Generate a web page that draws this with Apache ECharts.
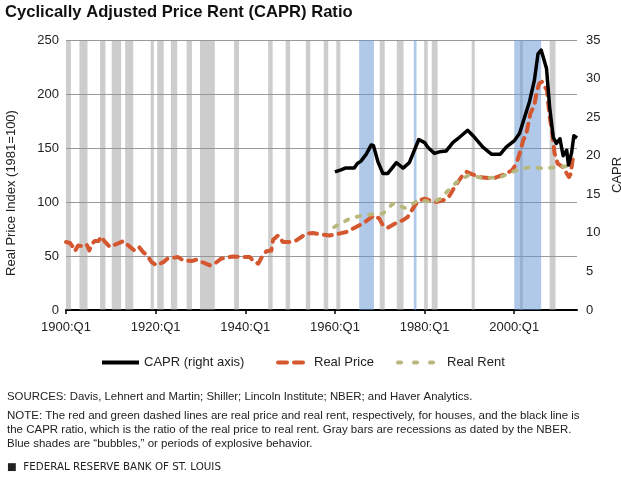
<!DOCTYPE html>
<html>
<head>
<meta charset="utf-8">
<script src="https://cdn.jsdelivr.net/npm/echarts@6/dist/echarts.min.js"></script>
<style>
html,body{margin:0;padding:0;background:#fff;}
#c{width:621px;height:483px;}
</style>
</head>
<body>
<div id="c"></div>
<script>
// ---- Data (x = year as decimal, quarterly dates) ----
const xTickYears = [1900, 1920, 1940, 1960, 1980, 2000];

const realPrice = [
  [1900.0,63],[1900.9,62],[1901.6,58],[1902.0,54.5],[1902.7,59.8],[1903.8,59],[1904.6,60.8],
  [1905.2,55.2],[1905.7,60.8],[1906.4,63.8],[1907.2,63.8],[1907.9,68],[1908.5,64],[1909.8,58.3],
  [1911.1,60.8],[1912.8,63.8],[1913.9,59.8],[1915.2,55.2],[1916.3,58.3],[1917.2,53.6],[1918.1,50.6],
  [1919.1,44.3],[1920.2,41.3],[1921.7,44.3],[1922.6,47.5],[1925.0,49],[1926.1,46],[1928.0,45.3],
  [1929.1,46.6],[1931.2,42.9],[1932.1,41.3],[1933.2,43],[1934.6,47.5],[1937.3,49.6],[1939.5,49],
  [1941.0,49],[1941.8,45.3],[1942.9,42.9],[1943.6,48.4],[1944.7,54.5],[1945.8,55],[1946.2,65],
  [1947.3,69],[1948.4,63],[1950.0,63],[1951.4,64.5],[1953.6,70.7],[1955.1,71.3],[1957.3,69.7],
  [1958.8,69],[1961.0,70.7],[1962.5,72.2],[1964.7,76.8],[1966.2,80],[1967.7,84.6],[1968.8,87.7],
  [1969.9,84.6],[1970.7,78.4],[1971.8,76.2],[1973.6,80.5],[1975.1,83],[1976.2,86],[1977.7,96],
  [1978.8,101.6],[1980.0,103],[1981.1,101.6],[1982.6,100],[1984.4,102],[1985.6,106],[1986.7,114],
  [1988.2,123],[1989.3,128],[1990.4,126],[1992.3,123],[1995.3,121.7],[1998.2,126.3],[1999.5,129.4],
  [2000.5,135.6],[2001.2,145],[2002.0,157],[2002.7,163.5],[2003.6,182],[2004.5,190],[2005.1,203.6],
  [2005.6,209.8],[2006.2,211.3],[2006.8,206.7],[2007.3,203.6],[2007.9,178.8],[2008.4,166.5],
  [2009.0,145],[2009.7,135.6],[2010.8,132.5],[2012.2,123.2],[2012.6,126],[2013.0,138.7],[2013.3,141.7]
];

const realRent = [
  [1959.8,76.8],[1963.3,84.6],[1966.5,88],[1969.9,89.2],[1970.7,89.2],[1972.9,98.5],[1975.6,94.5],
  [1978.7,101.6],[1982.0,100],[1983.5,103],[1985.3,110.9],[1987.2,118.6],[1989.8,124.8],[1993.2,122],
  [1996.9,123],[1999.9,128.5],[2003.6,132.5],[2006.6,131],[2009.6,132.5],[2011.5,133],[2013.3,133]
];

const capr = [
  [1960.0,17.9],[1961.5,18.2],[1962.3,18.4],[1964.3,18.4],[1965.0,19.0],[1965.8,19.3],[1967.0,20.2],
  [1968.1,21.4],[1968.6,21.3],[1969.6,19.2],[1970.7,17.7],[1971.8,17.7],[1973.7,19.1],[1975.2,18.4],
  [1976.6,19.1],[1978.7,22.1],[1980.0,21.7],[1980.7,21.1],[1982.2,20.3],[1983.3,20.5],[1984.8,20.6],
  [1986.3,21.7],[1987.4,22.2],[1989.6,23.3],[1990.8,22.6],[1993.0,21.1],[1994.9,20.2],[1996.9,20.2],
  [1998.2,21.1],[2000.1,22.0],[2001.2,22.9],[2002.3,25.0],[2003.4,27.0],[2004.5,29.8],[2005.3,33.2],
  [2006.0,33.7],[2007.2,31.3],[2007.9,26.3],[2008.7,22.4],[2009.4,21.6],[2010.2,22.2],[2010.9,20.0],
  [2011.7,20.7],[2012.1,18.8],[2012.8,20.4],[2013.3,22.6],[2014.0,22.3]
];

// NBER recessions (gray) and bubble periods (blue), as [start, end] years
const recessions = [
  [1900.0,1901.1],[1903.0,1904.8],[1907.6,1908.8],[1910.2,1912.3],[1913.2,1915.0],[1918.9,1919.6],
  [1920.35,1921.8],[1923.4,1924.8],[1926.9,1928.1],[1929.9,1933.2],[1937.5,1938.6],[1945.1,1946.1],
  [1949.0,1950.0],[1953.5,1954.5],[1957.5,1958.5],[1960.3,1961.2],[1970.0,1971.1],[1973.8,1975.3],
  [1979.9,1980.7],[1981.6,1982.9],[1990.5,1991.2],[2001.3,2001.9],[2007.9,2009.2]
];
const bubbles = [[1965.4,1968.7],[1977.6,1978.2],[2000.0,2006.0]];

const footSources = 'SOURCES: Davis, Lehnert and Martin; Shiller; Lincoln Institute; NBER; and Haver Analytics.';
const footNote = [
  'NOTE: The red and green dashed lines are real price and real rent, respectively, for houses, and the black line is',
  'the CAPR ratio, which is the ratio of the real price to real rent. Gray bars are recessions as dated by the NBER.',
  'Blue shades are \u201Cbubbles,\u201D or periods of explosive behavior.'
];
const footBrand = '\u25A0  FEDERAL RESERVE BANK OF ST. LOUIS';

// ---- Chart ----
const FONT = '"Liberation Sans", Arial, sans-serif';
const chart = echarts.init(document.getElementById('c'), null, {renderer: 'canvas'});

const toAreas = arr => arr.map(r => [{xAxis: r[0]}, {xAxis: r[1]}]);

const priceColor = '#d5572f';
const rentColor = '#b9b87c';
const legendText = {fontFamily: FONT, fontSize: 13, color: '#222'};

const option = {
  animation: false,
  backgroundColor: '#fff',
  textStyle: {fontFamily: FONT},
  title: {
    text: 'Cyclically Adjusted Price Rent (CAPR) Ratio',
    left: 5, top: 4, padding: 0,
    textStyle: {fontFamily: FONT, fontSize: 16.6, fontWeight: 'bold', color: '#111'}
  },
  grid: {left: 66, right: 44, top: 40, bottom: 173, containLabel: false, outerBoundsMode: 'none'},
  legend: [
    {
      left: 95, top: 351, itemWidth: 37, itemHeight: 14,
      data: [{name: 'CAPR (right axis)', itemStyle: {opacity: 0},
              lineStyle: {width: 4, color: '#000', type: 'solid'}}],
      textStyle: legendText
    },
    {
      left: 271, top: 351, itemWidth: 31, itemHeight: 14,
      data: [{name: 'Real Price', itemStyle: {opacity: 0},
              lineStyle: {width: 4, color: priceColor, type: [9, 7], cap: 'round'}}],
      textStyle: legendText
    },
    {
      left: 391, top: 351, itemWidth: 44, itemHeight: 14,
      data: [{name: 'Real Rent', itemStyle: {opacity: 0},
              lineStyle: {width: 4, color: rentColor, type: [3, 13], cap: 'round'}}],
      textStyle: legendText
    }
  ],
  xAxis: {
    type: 'value', min: 1900, max: 2014, interval: 20,
    axisLine: {show: true, onZero: false, lineStyle: {color: '#000', width: 2}},
    axisTick: {show: true, length: 4, customValues: xTickYears, lineStyle: {color: '#000', width: 1.5}},
    axisLabel: {
      customValues: xTickYears, margin: 11, fontSize: 13, color: '#222', fontFamily: FONT,
      formatter: v => v + ':Q1'
    },
    splitLine: {show: false}
  },
  yAxis: [
    {
      type: 'value', min: 0, max: 250, interval: 50,
      axisLine: {show: false}, axisTick: {show: false},
      axisLabel: {fontSize: 13, color: '#222', margin: 7, fontFamily: FONT},
      splitLine: {show: true, lineStyle: {color: '#9a9a9a', width: 1}}
    },
    {
      type: 'value', min: 0, max: 35, interval: 5, position: 'right',
      name: 'CAPR', nameLocation: 'middle', nameGap: 31, nameRotate: 90,
      nameTextStyle: {fontSize: 13, color: '#222', fontFamily: FONT},
      axisLine: {show: false}, axisTick: {show: false},
      axisLabel: {fontSize: 13, color: '#222', margin: 9, fontFamily: FONT},
      splitLine: {show: false}
    }
  ],
  graphic: [
    {
      type: 'text', x: 11, y: 193, rotation: Math.PI / 2,
      style: {text: 'Real Price Index (1981=100)', font: '13px ' + FONT, fill: '#222',
              textAlign: 'center', textVerticalAlign: 'middle'}
    },
    {
      type: 'text', x: 7, y: 397,
      style: {text: footSources, font: '11.4px ' + FONT, fill: '#222', textVerticalAlign: 'middle'}
    },
    {
      type: 'text', x: 7, y: 416,
      style: {text: footNote[0], font: '11.5px ' + FONT, fill: '#222', textVerticalAlign: 'middle'}
    },
    {
      type: 'text', x: 7, y: 430,
      style: {text: footNote[1], font: '11.5px ' + FONT, fill: '#222', textVerticalAlign: 'middle'}
    },
    {
      type: 'text', x: 7, y: 444,
      style: {text: footNote[2], font: '11.5px ' + FONT, fill: '#222', textVerticalAlign: 'middle'}
    },
    {
      type: 'text', x: 7, y: 467,
      style: {text: footBrand, font: '10.3px "DejaVu Sans", sans-serif', fill: '#222',
              textVerticalAlign: 'middle'}
    }
  ],
  series: [
    {
      name: 'recessions', type: 'line', data: [], silent: true, z: 1,
      markArea: {silent: true, itemStyle: {color: 'rgba(150,150,150,0.48)'}, data: toAreas(recessions)}
    },
    {
      name: 'bubbles', type: 'line', data: [], silent: true, z: 1,
      markArea: {silent: true, itemStyle: {color: 'rgba(98,148,210,0.5)'}, data: toAreas(bubbles)}
    },
    {
      name: 'Real Price', type: 'line', yAxisIndex: 0, data: realPrice, symbol: 'none', z: 3,
      itemStyle: {color: priceColor},
      lineStyle: {color: priceColor, width: 4, type: [8, 7], cap: 'round', join: 'round'}
    },
    {
      name: 'Real Rent', type: 'line', yAxisIndex: 0, data: realRent, symbol: 'none', z: 3,
      itemStyle: {color: rentColor},
      lineStyle: {color: rentColor, width: 3.8, type: [3.5, 9], cap: 'round', join: 'round'}
    },
    {
      name: 'CAPR (right axis)', type: 'line', yAxisIndex: 1, data: capr, symbol: 'none', z: 4,
      itemStyle: {color: '#000'},
      lineStyle: {color: '#000', width: 3.5, join: 'round'}
    }
  ]
};
chart.setOption(option);
</script>
</body>
</html>
